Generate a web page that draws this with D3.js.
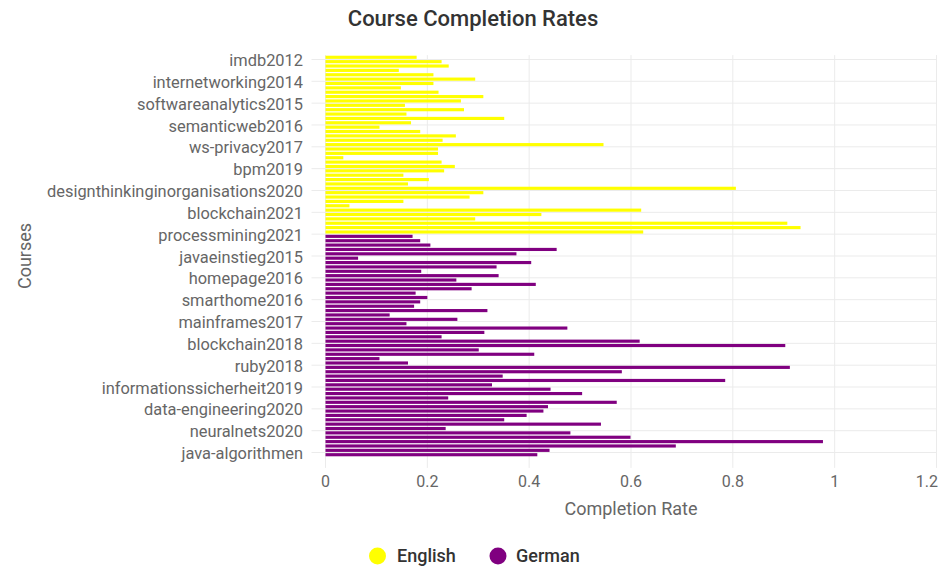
<!DOCTYPE html>
<html>
<head>
<meta charset="utf-8">
<script src="https://cdn.jsdelivr.net/npm/d3@7"></script>
<style>
  html, body { margin: 0; padding: 0; background: #ffffff; }
  svg { display: block; font-family: Roboto, "Noto Sans", sans-serif; }
</style>
</head>
<body>
<svg id="chart" width="946" height="586"></svg>
<script>
// ---- data ----
const englishValues = [
  0.179, 0.228, 0.242, 0.144, 0.212, 0.294, 0.212, 0.148, 0.222, 0.310,
  0.266, 0.156, 0.272, 0.159, 0.351, 0.168, 0.106, 0.186, 0.256, 0.230,
  0.546, 0.221, 0.221, 0.035, 0.228, 0.254, 0.233, 0.153, 0.203, 0.162,
  0.806, 0.310, 0.283, 0.153, 0.047, 0.620, 0.424, 0.294, 0.907, 0.933,
  0.624
];
const germanValues = [
  0.171, 0.186, 0.206, 0.454, 0.375, 0.064, 0.404, 0.336, 0.188, 0.340,
  0.257, 0.413, 0.287, 0.177, 0.200, 0.186, 0.174, 0.318, 0.126, 0.259,
  0.159, 0.475, 0.312, 0.228, 0.617, 0.903, 0.301, 0.410, 0.106, 0.162,
  0.912, 0.582, 0.348, 0.785, 0.327, 0.442, 0.504, 0.241, 0.572, 0.437,
  0.428, 0.395, 0.351, 0.541, 0.236, 0.481, 0.599, 0.977, 0.688, 0.440,
  0.416
];
// course labels that are shown on the axis (every 5th course)
const tickLabels = [
  "imdb2012", "internetworking2014", "softwareanalytics2015", "semanticweb2016",
  "ws-privacy2017", "bpm2019", "designthinkinginorganisations2020", "blockchain2021",
  "processmining2021", "javaeinstieg2015", "homepage2016", "smarthome2016",
  "mainframes2017", "blockchain2018", "ruby2018", "informationssicherheit2019",
  "data-engineering2020", "neuralnets2020", "java-algorithmen"
];
const tickEvery = 5;
const xTicks = [0, 0.2, 0.4, 0.6, 0.8, 1, 1.2];
const languages = ["English", "German"];
const colors = { English: "#ffff00", German: "#800080" };

// ---- build rows ----
const rows = englishValues.map(v => ({ lang: "English", value: v }))
  .concat(germanValues.map(v => ({ lang: "German", value: v })));
rows.forEach((d, i) => d.index = i);

const svg = d3.select("#chart");
const plot = { left: 325.5, right: 936.5, top: 55.1, bottom: 456.9 };

const x = d3.scaleLinear().domain([0, 1.2]).range([plot.left, plot.right]);
const y = d3.scaleBand()
  .domain(d3.range(rows.length))
  .range([plot.top, plot.bottom])
  .paddingInner(0.28)
  .paddingOuter(0.14);
const step = y.step();
const center = i => y(i) + y.bandwidth() / 2;

const gridColor = "#ebebeb";
const labelIdx = tickLabels.map((t, k) => k * tickEvery);

// vertical grid lines (with tick extension)
svg.append("g").selectAll("line").data(xTicks).join("line")
  .attr("x1", d => x(d)).attr("x2", d => x(d))
  .attr("y1", plot.top).attr("y2", plot.bottom + 11)
  .attr("stroke", gridColor).attr("stroke-width", 1);

// horizontal grid lines + tick marks
svg.append("g").selectAll("line").data(labelIdx).join("line")
  .attr("x1", plot.left - 14).attr("x2", plot.right)
  .attr("y1", d => center(d) + step / 2).attr("y2", d => center(d) + step / 2)
  .attr("stroke", gridColor).attr("stroke-width", 1);

// bars
svg.append("g").selectAll("rect").data(rows).join("rect")
  .attr("x", x(0))
  .attr("y", d => y(d.index))
  .attr("width", d => x(d.value) - x(0))
  .attr("height", y.bandwidth())
  .attr("fill", d => colors[d.lang]);

// y tick labels
svg.append("g").selectAll("text").data(tickLabels).join("text")
  .attr("x", 303)
  .attr("y", (d, k) => center(k * tickEvery) + 8.8)
  .attr("text-anchor", "end")
  .attr("font-size", 16.4)
  .attr("fill", "#666")
  .text(d => d);

// x tick labels (last one kept inside the canvas)
const lastTick = xTicks[xTicks.length - 1];
svg.append("g").selectAll("text").data(xTicks).join("text")
  .attr("x", d => d === lastTick ? 938 : x(d))
  .attr("y", 486.7)
  .attr("text-anchor", d => d === lastTick ? "end" : "middle")
  .attr("font-size", 16)
  .attr("fill", "#666")
  .text(d => d3.format("~g")(d));

// axis titles
svg.append("text")
  .attr("x", (plot.left + plot.right) / 2).attr("y", 514.5)
  .attr("text-anchor", "middle").attr("font-size", 18).attr("fill", "#666")
  .text("Completion Rate");
svg.append("text")
  .attr("transform", `translate(31.4, ${(plot.top + plot.bottom) / 2}) rotate(-90)`)
  .attr("text-anchor", "middle").attr("font-size", 18).attr("fill", "#666")
  .text("Courses");

// title
svg.append("text")
  .attr("x", 473).attr("y", 25.8)
  .attr("text-anchor", "middle").attr("font-size", 22).attr("font-weight", 500)
  .attr("fill", "#333")
  .text("Course Completion Rates");

// legend
const legendPos = [{ cx: 377.5, tx: 397 }, { cx: 498, tx: 516 }];
const lg = svg.append("g").selectAll("g").data(languages).join("g");
lg.append("circle")
  .attr("cx", (d, i) => legendPos[i].cx).attr("cy", 556).attr("r", 8.5)
  .attr("fill", d => colors[d]);
lg.append("text")
  .attr("x", (d, i) => legendPos[i].tx).attr("y", 562.4)
  .attr("font-size", 18).attr("font-weight", 500).attr("fill", "#333")
  .text(d => d);
</script>
</body>
</html>
